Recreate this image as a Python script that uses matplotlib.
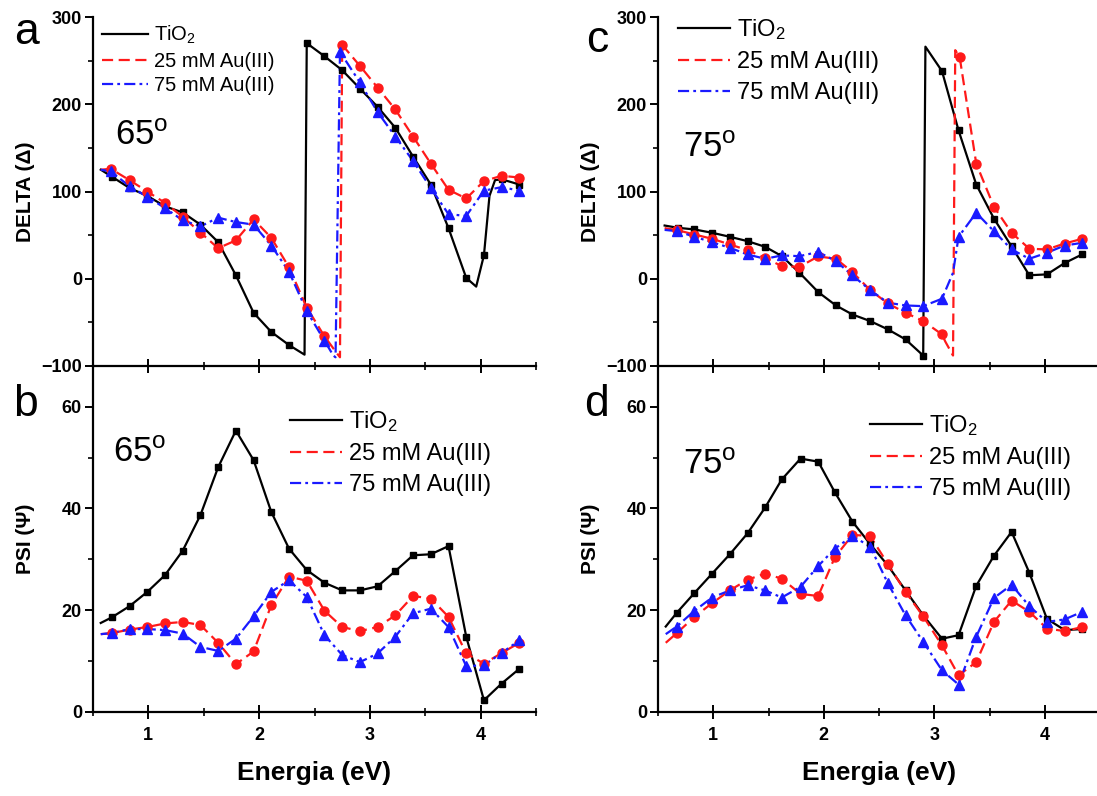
import numpy as np
import matplotlib
matplotlib.use("Agg")
import matplotlib.pyplot as plt
from matplotlib.ticker import MultipleLocator

plt.rcParams['font.family'] = ['Liberation Sans', 'DejaVu Sans']
plt.rcParams['mathtext.fontset'] = 'custom'
plt.rcParams['mathtext.rm'] = 'Liberation Sans'
plt.rcParams['mathtext.it'] = 'Liberation Sans:italic'
plt.rcParams['lines.scale_dashes'] = False

# ---------------- data ----------------
# Panel a: DELTA at 65 deg
a_tio2_x = [0.57, 0.67, 0.83, 0.99, 1.15, 1.31, 1.47, 1.63, 1.79, 1.95, 2.11, 2.27, 2.41, 2.43, 2.59, 2.75, 2.91, 3.07, 3.23, 3.39, 3.55, 3.71, 3.87, 3.96, 4.03, 4.08, 4.13, 4.19, 4.35]
a_tio2_y = [125, 117, 104, 95, 83, 76, 62, 42, 4, -39, -61, -76, -87, 270, 255, 239, 218, 197, 173, 140, 108, 58, 1, -9, 27, 95, 113, 114, 108]
a_au25_x = [0.57, 0.66, 0.83, 0.99, 1.15, 1.31, 1.47, 1.63, 1.79, 1.95, 2.11, 2.27, 2.43, 2.59, 2.70, 2.73, 2.75, 2.91, 3.07, 3.23, 3.39, 3.55, 3.71, 3.87, 4.03, 4.19, 4.35]
a_au25_y = [125, 126, 113, 100, 87, 71, 53, 35, 44, 68, 47, 13, -33, -66, -85, -90, 268, 244, 219, 194, 163, 132, 102, 92, 112, 118, 116]
a_au75_x = [0.57, 0.66, 0.83, 0.99, 1.15, 1.31, 1.47, 1.63, 1.79, 1.95, 2.11, 2.27, 2.43, 2.59, 2.67, 2.69, 2.73, 2.91, 3.07, 3.23, 3.39, 3.55, 3.71, 3.87, 4.03, 4.19, 4.35]
a_au75_y = [125, 123, 106, 94, 81, 67, 60, 70, 65, 62, 38, 8, -37, -71, -88, -90, 260, 225, 191, 163, 135, 104, 74, 72, 101, 105, 101]

# Panel b: PSI at 65 deg
b_x = [0.57, 0.67, 0.83, 0.99, 1.15, 1.31, 1.47, 1.63, 1.79, 1.95, 2.11, 2.27, 2.43, 2.59, 2.75, 2.91, 3.07, 3.23, 3.39, 3.55, 3.71, 3.87, 4.03, 4.19, 4.35]
b_tio2_y = [17.5, 18.6, 20.8, 23.6, 26.9, 31.7, 38.7, 48.1, 55.3, 49.5, 39.3, 32.1, 27.9, 25.4, 23.9, 23.9, 24.7, 27.7, 30.8, 31.0, 32.6, 14.8, 2.3, 5.6, 8.5]
b_au25_y = [15.3, 15.5, 16.2, 16.7, 17.4, 17.7, 17.1, 13.6, 9.4, 11.9, 21.0, 26.6, 25.8, 19.9, 16.7, 15.9, 16.7, 19.0, 22.8, 22.3, 18.7, 11.5, 9.5, 11.6, 13.6]
b_au75_y = [15.3, 15.5, 16.3, 16.3, 16.1, 15.4, 12.8, 12.0, 14.4, 18.8, 23.6, 25.9, 22.6, 15.1, 11.2, 9.8, 11.5, 14.8, 19.4, 20.3, 16.7, 9.0, 9.2, 11.6, 14.1]

# Panel c: DELTA at 75 deg
c_tio2_x = [0.56, 0.68, 0.83, 0.99, 1.15, 1.31, 1.47, 1.62, 1.78, 1.95, 2.11, 2.26, 2.42, 2.58, 2.74, 2.90, 2.92, 3.07, 3.22, 3.38, 3.54, 3.70, 3.86, 4.02, 4.18, 4.34]
c_tio2_y = [61, 58.4, 56.5, 52.7, 48.1, 43.1, 36.6, 26, 6.9, -15.3, -30.6, -41, -48.5, -58, -69.5, -88, 266, 238, 170, 108, 69, 37, 4, 5, 18, 28]
c_au25_x = [0.56, 0.675, 0.83, 0.99, 1.15, 1.31, 1.47, 1.62, 1.78, 1.95, 2.11, 2.26, 2.42, 2.58, 2.74, 2.90, 3.07, 3.10, 3.17, 3.19, 3.23, 3.38, 3.54, 3.70, 3.86, 4.02, 4.18, 4.34]
c_au25_y = [58, 55.7, 50.7, 45.8, 39.3, 32.8, 24, 14.4, 13.7, 25.6, 22.9, 7.6, -13, -28.3, -39, -48.5, -63.8, -72, -88, 262, 254, 132, 82.5, 52.7, 34.4, 33.6, 40.4, 45.8]
c_au75_x = [0.56, 0.675, 0.83, 0.99, 1.15, 1.31, 1.47, 1.62, 1.78, 1.95, 2.11, 2.26, 2.42, 2.58, 2.74, 2.90, 3.07, 3.17, 3.22, 3.38, 3.54, 3.70, 3.86, 4.02, 4.18, 4.34]
c_au75_y = [56, 54.5, 48.1, 41.9, 35.5, 27.8, 22.9, 26.7, 25.9, 30.7, 20.2, 3.8, -13, -27.5, -30.6, -31.4, -22.9, 6.9, 48.1, 75.6, 54.5, 33.6, 22.9, 29.8, 38.1, 41.2]

# Panel d: PSI at 75 deg
d_x = [0.57, 0.67, 0.83, 0.99, 1.15, 1.31, 1.47, 1.62, 1.79, 1.95, 2.10, 2.26, 2.42, 2.58, 2.74, 2.90, 3.07, 3.22, 3.38, 3.54, 3.70, 3.86, 4.02, 4.18, 4.34]
d_tio2_y = [16.8, 19.5, 23.4, 27.2, 31.0, 35.1, 40.2, 45.7, 49.8, 49.2, 43.2, 37.4, 33.0, 28.8, 23.9, 19.0, 14.4, 15.1, 24.8, 30.7, 35.4, 27.4, 18.3, 16.1, 16.3]
d_au25_y = [13.6, 15.5, 18.7, 21.4, 23.9, 26.0, 27.2, 26.2, 23.2, 22.8, 30.4, 34.8, 34.6, 29.1, 23.6, 18.8, 13.1, 7.2, 9.8, 17.7, 21.9, 19.7, 16.4, 15.9, 16.7]
d_au75_y = [15.3, 16.8, 19.9, 22.5, 23.9, 24.9, 23.9, 22.5, 24.6, 28.7, 32.1, 34.6, 32.5, 25.3, 19.0, 13.8, 8.2, 5.4, 14.8, 22.4, 25.0, 20.8, 17.7, 18.2, 19.7]

labels = ['TiO$_2$', '25 mM Au(III)', '75 mM Au(III)']
x_ticks = [1, 2, 3, 4]
delta_ticks = [-100, 0, 100, 200, 300]
psi_ticks = [0, 20, 40, 60]

# ---------------- styling ----------------
W, H = 1097, 796
fig = plt.figure(figsize=(W / 100, H / 100), dpi=100)

def fx(px):
    return px / W

def fy(py):
    return 1 - py / H

ax_a = fig.add_axes([fx(93), fy(366), fx(536) - fx(93), fy(17) - fy(366)])
ax_b = fig.add_axes([fx(93), fy(712), fx(536) - fx(93), fy(366) - fy(712)])
ax_c = fig.add_axes([fx(658), fy(366), fx(1100) - fx(658), fy(17) - fy(366)])
ax_d = fig.add_axes([fx(658), fy(712), fx(1100) - fx(658), fy(366) - fy(712)])

BLACK, RED, BLUE = 'black', '#ff1a1a', '#1a1aff'
LW = 1.6
RED_DASH = (8, 4)
BLUE_DASH = (8, 3, 2, 3)


def series(ax, x, y, skip, color, dashes, marker, ms, label):
    kw = dict(color=color, lw=LW, label=label, zorder=3)
    if dashes is not None:
        kw['dashes'] = dashes
    ax.plot(x, y, **kw)
    idx = [i for i in range(len(x)) if i not in skip]
    ax.plot([x[i] for i in idx], [y[i] for i in idx], ls='none', marker=marker,
            ms=ms, color=color, mec=color, zorder=4)


def style(ax, top, show_xlabels):
    ax.set_xlim(0.5, 4.5)
    if top:
        ax.set_ylim(-100, 300)
        ax.set_yticks(delta_ticks)
        ax.yaxis.set_minor_locator(MultipleLocator(50))
    else:
        ax.set_ylim(0, 68)
        ax.set_yticks(psi_ticks)
        ax.yaxis.set_minor_locator(MultipleLocator(10))
    ax.set_xticks(x_ticks)
    ax.xaxis.set_minor_locator(MultipleLocator(0.5))
    ax.spines['top'].set_visible(False)
    ax.spines['right'].set_visible(False)
    for s in ('left', 'bottom'):
        ax.spines[s].set_linewidth(1.6)
    ax.tick_params(axis='y', which='major', direction='out', length=6, width=1.4,
                   labelsize=13, pad=2)
    ax.tick_params(axis='y', which='minor', direction='out', length=3.5, width=1.2)
    ax.tick_params(axis='x', which='major', direction='inout', length=10, width=1.4,
                   labelsize=13, pad=6, labelbottom=show_xlabels)
    ax.tick_params(axis='x', which='minor', direction='inout', length=6, width=1.2)
    for lab in ax.get_yticklabels() + ax.get_xticklabels():
        lab.set_fontweight('bold')
    ax.patch.set_alpha(0)


def legend(ax, anchor, fs, hl, sp):
    leg = ax.legend(loc='upper left', bbox_to_anchor=anchor, frameon=False,
                    fontsize=fs, handlelength=hl, handletextpad=0.3,
                    labelspacing=sp, borderpad=0, borderaxespad=0)
    return leg


# Panel a
series(ax_a, a_tio2_x, a_tio2_y, {0, 12, 23, 25, 26}, BLACK, None, 's', 4.5, labels[0])
series(ax_a, a_au25_x, a_au25_y, {0, 14, 15}, RED, RED_DASH, 'o', 6.5, labels[1])
series(ax_a, a_au75_x, a_au75_y, {0, 14, 15}, BLUE, BLUE_DASH, '^', 6.5, labels[2])
style(ax_a, True, False)
legend(ax_a, (0.02, 0.98), 14.5, 2.3, 0.27)
ax_a.text(0.05, 0.66, '65$^{\\rm o}$', transform=ax_a.transAxes, fontsize=25,
          ha='left', va='center')

# Panel b
series(ax_b, b_x, b_tio2_y, {0}, BLACK, None, 's', 4.5, labels[0])
series(ax_b, b_x, b_au25_y, {0}, RED, RED_DASH, 'o', 6.5, labels[1])
series(ax_b, b_x, b_au75_y, {0}, BLUE, BLUE_DASH, '^', 6.5, labels[2])
style(ax_b, False, True)
legend(ax_b, (0.445, 0.875), 17, 2.2, 0.38)
ax_b.text(0.046, 0.75, '65$^{\\rm o}$', transform=ax_b.transAxes, fontsize=25,
          ha='left', va='center')

# Panel c
series(ax_c, c_tio2_x, c_tio2_y, {0, 16}, BLACK, None, 's', 4.5, labels[0])
series(ax_c, c_au25_x, c_au25_y, {0, 17, 18, 19}, RED, RED_DASH, 'o', 6.5, labels[1])
series(ax_c, c_au75_x, c_au75_y, {0, 17}, BLUE, BLUE_DASH, '^', 6.5, labels[2])
style(ax_c, True, False)
legend(ax_c, (0.045, 1.0), 17, 2.2, 0.38)
ax_c.text(0.057, 0.625, '75$^{\\rm o}$', transform=ax_c.transAxes, fontsize=25,
          ha='left', va='center')

# Panel d
series(ax_d, d_x, d_tio2_y, {0}, BLACK, None, 's', 4.5, labels[0])
series(ax_d, d_x, d_au25_y, {0}, RED, RED_DASH, 'o', 6.5, labels[1])
series(ax_d, d_x, d_au75_y, {0}, BLUE, BLUE_DASH, '^', 6.5, labels[2])
style(ax_d, False, True)
legend(ax_d, (0.48, 0.863), 17, 2.2, 0.38)
ax_d.text(0.057, 0.714, '75$^{\\rm o}$', transform=ax_d.transAxes, fontsize=25,
          ha='left', va='center')

# axis labels
for ax in (ax_a, ax_c):
    ax.set_ylabel('DELTA (Δ)', fontsize=15, fontweight='bold')
    ax.yaxis.set_label_coords(-0.131, 0.5)
for ax in (ax_b, ax_d):
    ax.set_ylabel('PSI (Ψ)', fontsize=15, fontweight='bold')
    ax.yaxis.set_label_coords(-0.131, 0.5)
    ax.set_xlabel('Energia (eV)', fontsize=19, fontweight='bold', labelpad=12)

# panel letters
for letter, px, py in (('a', 26, 32), ('b', 26, 404), ('c', 597, 40), ('d', 597, 405)):
    fig.text(fx(px), fy(py), letter, fontsize=32, ha='center', va='center')

fig.savefig('out.png', dpi=100)
